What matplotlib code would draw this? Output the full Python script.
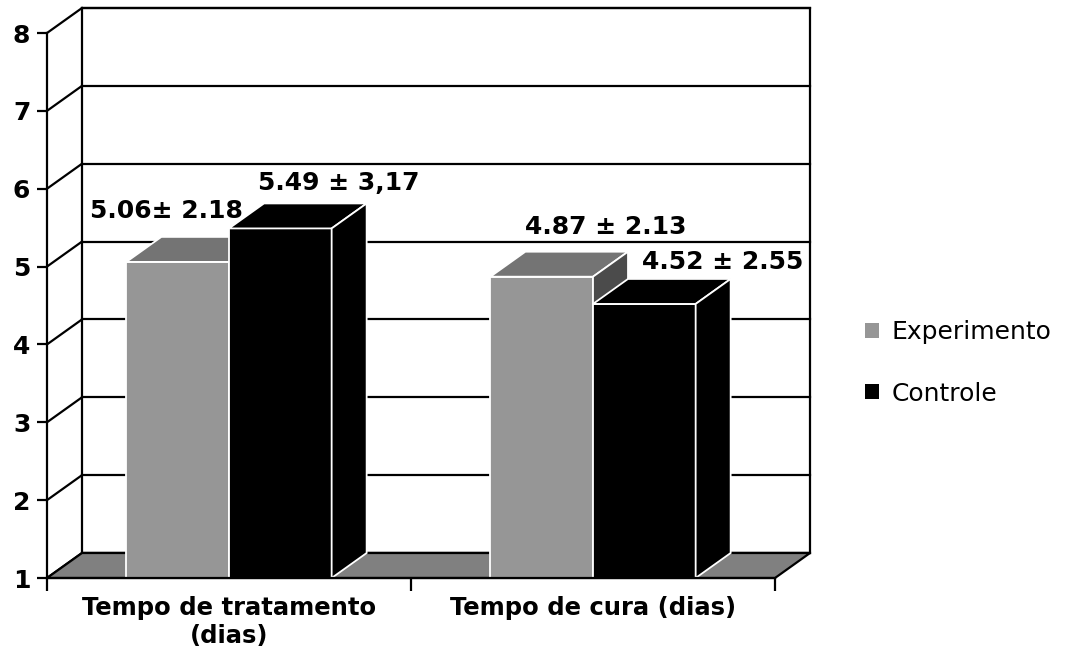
import numpy as np
import matplotlib
matplotlib.use("Agg")
import matplotlib.pyplot as plt
from matplotlib.patches import Polygon, Patch

# ---- data ----
categories = ["Tempo de tratamento\n(dias)", "Tempo de cura (dias)"]
series_names = ["Experimento", "Controle"]
experimento = [5.06, 4.87]
controle = [5.49, 4.52]
labels_exp = ["5.06\u00b1 2.18", "4.87 \u00b1 2.13"]
labels_ctl = ["5.49 \u00b1 3,17", "4.52 \u00b1 2.55"]
yticks = [1, 2, 3, 4, 5, 6, 7, 8]

# ---- style ----
front_cols = ["#969696", "#000000"]
top_cols = ["#747474", "#000000"]
side_cols = ["#4b4b4b", "#000000"]
floor_col = "#808080"

W, H = 1071, 664
fig = plt.figure(figsize=(W / 100, H / 100), dpi=100)
# front plane: x 0..2 -> px 47..775 ; y 1..8 -> px 578..33
ax = fig.add_axes([47 / W, (H - 578) / H, 728 / W, 545 / H])
ax.set_xlim(0, 2)
ax.set_ylim(1, 8)
ax.set_facecolor("none")

dx = 35 / 364.0          # depth offset in x data units
dy = 25 / (545 / 7.0)    # depth offset in y data units
lw = 1.6

# back wall
ax.add_patch(Polygon([(dx, 1 + dy), (2 + dx, 1 + dy), (2 + dx, 8 + dy), (dx, 8 + dy)],
                     closed=True, facecolor="white", edgecolor="black", lw=lw,
                     clip_on=False, zorder=0.5))
for v in yticks:
    ax.plot([dx, 2 + dx], [v + dy, v + dy], color="black", lw=lw, clip_on=False, zorder=0.6)
    ax.plot([0, dx], [v, v + dy], color="black", lw=lw, clip_on=False, zorder=0.6)

# floor
ax.add_patch(Polygon([(0, 1), (2, 1), (2 + dx, 1 + dy), (dx, 1 + dy)], closed=True,
                     facecolor=floor_col, edgecolor="black", lw=lw, clip_on=False, zorder=1))

# bars
width = 0.282
x = np.arange(len(categories)) + 0.5
z = 2.0
for gi in range(len(categories)):
    for si, vals in enumerate([experimento, controle]):
        v = vals[gi]
        x0 = x[gi] - width if si == 0 else x[gi]
        ax.bar([x0], [v - 1], bottom=1, width=width, align="edge",
               color=front_cols[si], edgecolor="white", lw=1.3, zorder=z,
               clip_on=False)
        top = Polygon([(x0, v), (x0 + width, v), (x0 + width + dx, v + dy), (x0 + dx, v + dy)],
                      closed=True, facecolor=top_cols[si], edgecolor="white", lw=1.3,
                      zorder=z + 0.01, clip_on=False)
        side = Polygon([(x0 + width, 1), (x0 + width + dx, 1 + dy), (x0 + width + dx, v + dy),
                        (x0 + width, v)], closed=True, facecolor=side_cols[si],
                       edgecolor="white", lw=1.3, zorder=z + 0.02, clip_on=False)
        ax.add_patch(top)
        ax.add_patch(side)
        z += 0.1

# value labels
lab_shift_x = [[-0.03, 0.16], [0.175, 0.216]]
lab_shift_y = [[0.65, 0.58], [0.64, 0.54]]
for gi in range(len(categories)):
    for si, (vals, labs) in enumerate([(experimento, labels_exp), (controle, labels_ctl)]):
        cx = x[gi] - width / 2 if si == 0 else x[gi] + width / 2
        ax.text(cx + lab_shift_x[gi][si], vals[gi] + lab_shift_y[gi][si], labs[gi],
                ha="center", va="center", fontsize=18, fontweight="bold",
                family="DejaVu Sans", zorder=10)

# axes
for s in ["top", "right"]:
    ax.spines[s].set_visible(False)
ax.spines["left"].set_linewidth(lw)
ax.spines["bottom"].set_linewidth(lw)
ax.spines["left"].set_zorder(0.7)
ax.spines["bottom"].set_zorder(5)
ax.set_yticks(yticks)
ax.set_yticklabels([str(t) for t in yticks], fontsize=18, fontweight="bold")
ax.tick_params(axis="y", length=7, width=lw, pad=5)
ax.set_xticks([0, 1, 2])
ax.set_xticklabels(["", "", ""])
ax.tick_params(axis="x", which="major", length=9, width=lw)
ax.set_xticks(x, categories, minor=True)
ax.tick_params(axis="x", which="minor", length=0, pad=13, labelsize=17.5)
for t in ax.get_xticklabels(minor=True):
    t.set_fontweight("bold")

handles = [Patch(facecolor=c, edgecolor="none") for c in front_cols]
fig.legend(handles, series_names, loc="center left",
           bbox_to_anchor=(853 / W, 1 - 363 / H), frameon=False, fontsize=18,
           handlelength=0.55, handleheight=0.55, handletextpad=0.5,
           labelspacing=1.5, borderpad=0)

fig.savefig("out.png", dpi=100)
